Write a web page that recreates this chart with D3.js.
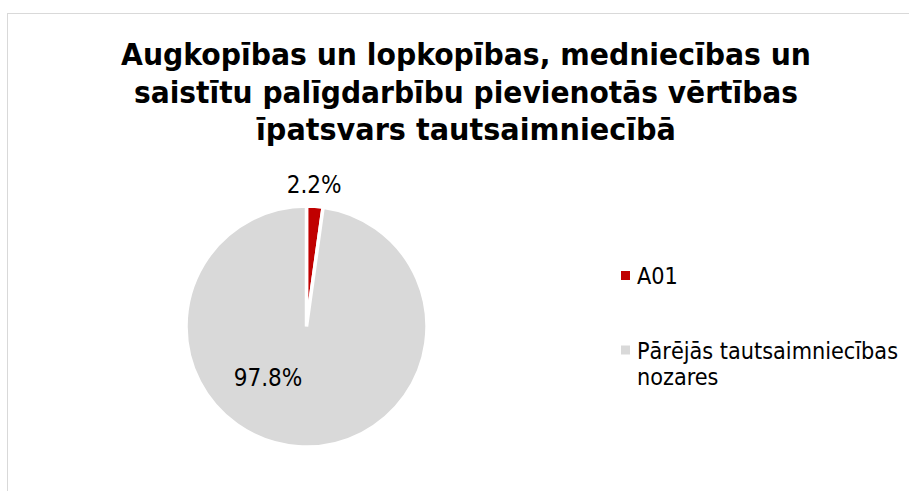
<!DOCTYPE html>
<html>
<head>
<meta charset="utf-8">
<script src="https://cdn.jsdelivr.net/npm/d3@7"></script>
<style>
  html, body { margin: 0; padding: 0; background: #fff; }
  svg { display: block; }
</style>
</head>
<body>
<svg id="chart" width="909" height="491"></svg>
<script>
// ---- data ----
const titleLines = [
  "Augkopības un lopkopības, medniecības un",
  "saistītu palīgdarbību pievienotās vērtības",
  "īpatsvars tautsaimniecībā"
];
const categories = ["A01", "Pārējās tautsaimniecības nozares"];
const legendLines = [["A01"], ["Pārējās tautsaimniecības", "nozares"]];
const values = [2.2, 97.8];
const valueLabels = ["2.2%", "97.8%"];
const sliceColors = ["#C00000", "#D9D9D9"];

// ---- drawing ----
const svg = d3.select("#chart");
const FONT = "Tahoma, 'DejaVu Sans Condensed', 'DejaVu Sans', sans-serif";

// chart border
svg.append("rect")
  .attr("x", 7.5).attr("y", 13.5)
  .attr("width", 1000).attr("height", 1000)
  .attr("fill", "#fff")
  .attr("stroke", "#D9D9D9").attr("stroke-width", 1);

// title
const titleWidths = [690, 664, 420];
const title = svg.append("g").attr("font-family", FONT)
  .attr("font-weight", "bold").attr("font-size", 30).attr("fill", "#000")
  .attr("text-anchor", "middle");
titleLines.forEach((t, i) => {
  title.append("text")
    .attr("x", 466).attr("y", 65 + i * 37.5)
    .attr("textLength", titleWidths[i])
    .attr("lengthAdjust", "spacingAndGlyphs")
    .text(t);
});

// pie
const cx = 306.5, cy = 326.5, R = 120.5;
const color = d3.scaleOrdinal().domain(categories).range(sliceColors);
const pie = d3.pie().sort(null).value(d => d.value);
const data = categories.map((c, i) => ({ cat: c, value: values[i], label: valueLabels[i] }));
const arcs = pie(data);
const arc = d3.arc().innerRadius(0).outerRadius(R);

const g = svg.append("g").attr("transform", `translate(${cx},${cy})`);
g.selectAll("path.slice").data(arcs).enter().append("path")
  .attr("class", "slice")
  .attr("d", arc)
  .attr("fill", d => color(d.data.cat))
  .attr("stroke", "#fff").attr("stroke-width", 3.5)
  .attr("stroke-linejoin", "miter");

// data labels (best-fit style: small slice outside, big slice inside)
function labelPos(d, i) {
  if (i === 0) {
    return d3.pointRadial((d.startAngle + d.endAngle) / 2 - 0.015, 142);
  }
  return d3.pointRadial(217 * Math.PI / 180, 64);
}
g.selectAll("text.lbl").data(arcs).enter().append("text")
  .attr("class", "lbl")
  .attr("font-family", FONT).attr("font-size", 24).attr("fill", "#000")
  .attr("text-anchor", "middle")
  .attr("x", (d, i) => labelPos(d, i)[0])
  .attr("y", (d, i) => labelPos(d, i)[1])
  .attr("dy", "0.35em")
  .text(d => d.data.label);

// legend
const legendY = d3.scalePoint().domain(categories).range([284, 358.5]);
const lg = svg.append("g").attr("font-family", FONT).attr("font-size", 23.2).attr("fill", "#000");
categories.forEach((c, i) => {
  const y = legendY(c);
  lg.append("rect")
    .attr("x", 621).attr("y", y - 13)
    .attr("width", 9).attr("height", 9)
    .attr("fill", color(c));
  const t = lg.append("text").attr("x", 637).attr("y", y);
  legendLines[i].forEach((line, j) => {
    t.append("tspan").attr("x", 637).attr("y", y + j * 26.5).text(line);
  });
});
</script>
</body>
</html>
